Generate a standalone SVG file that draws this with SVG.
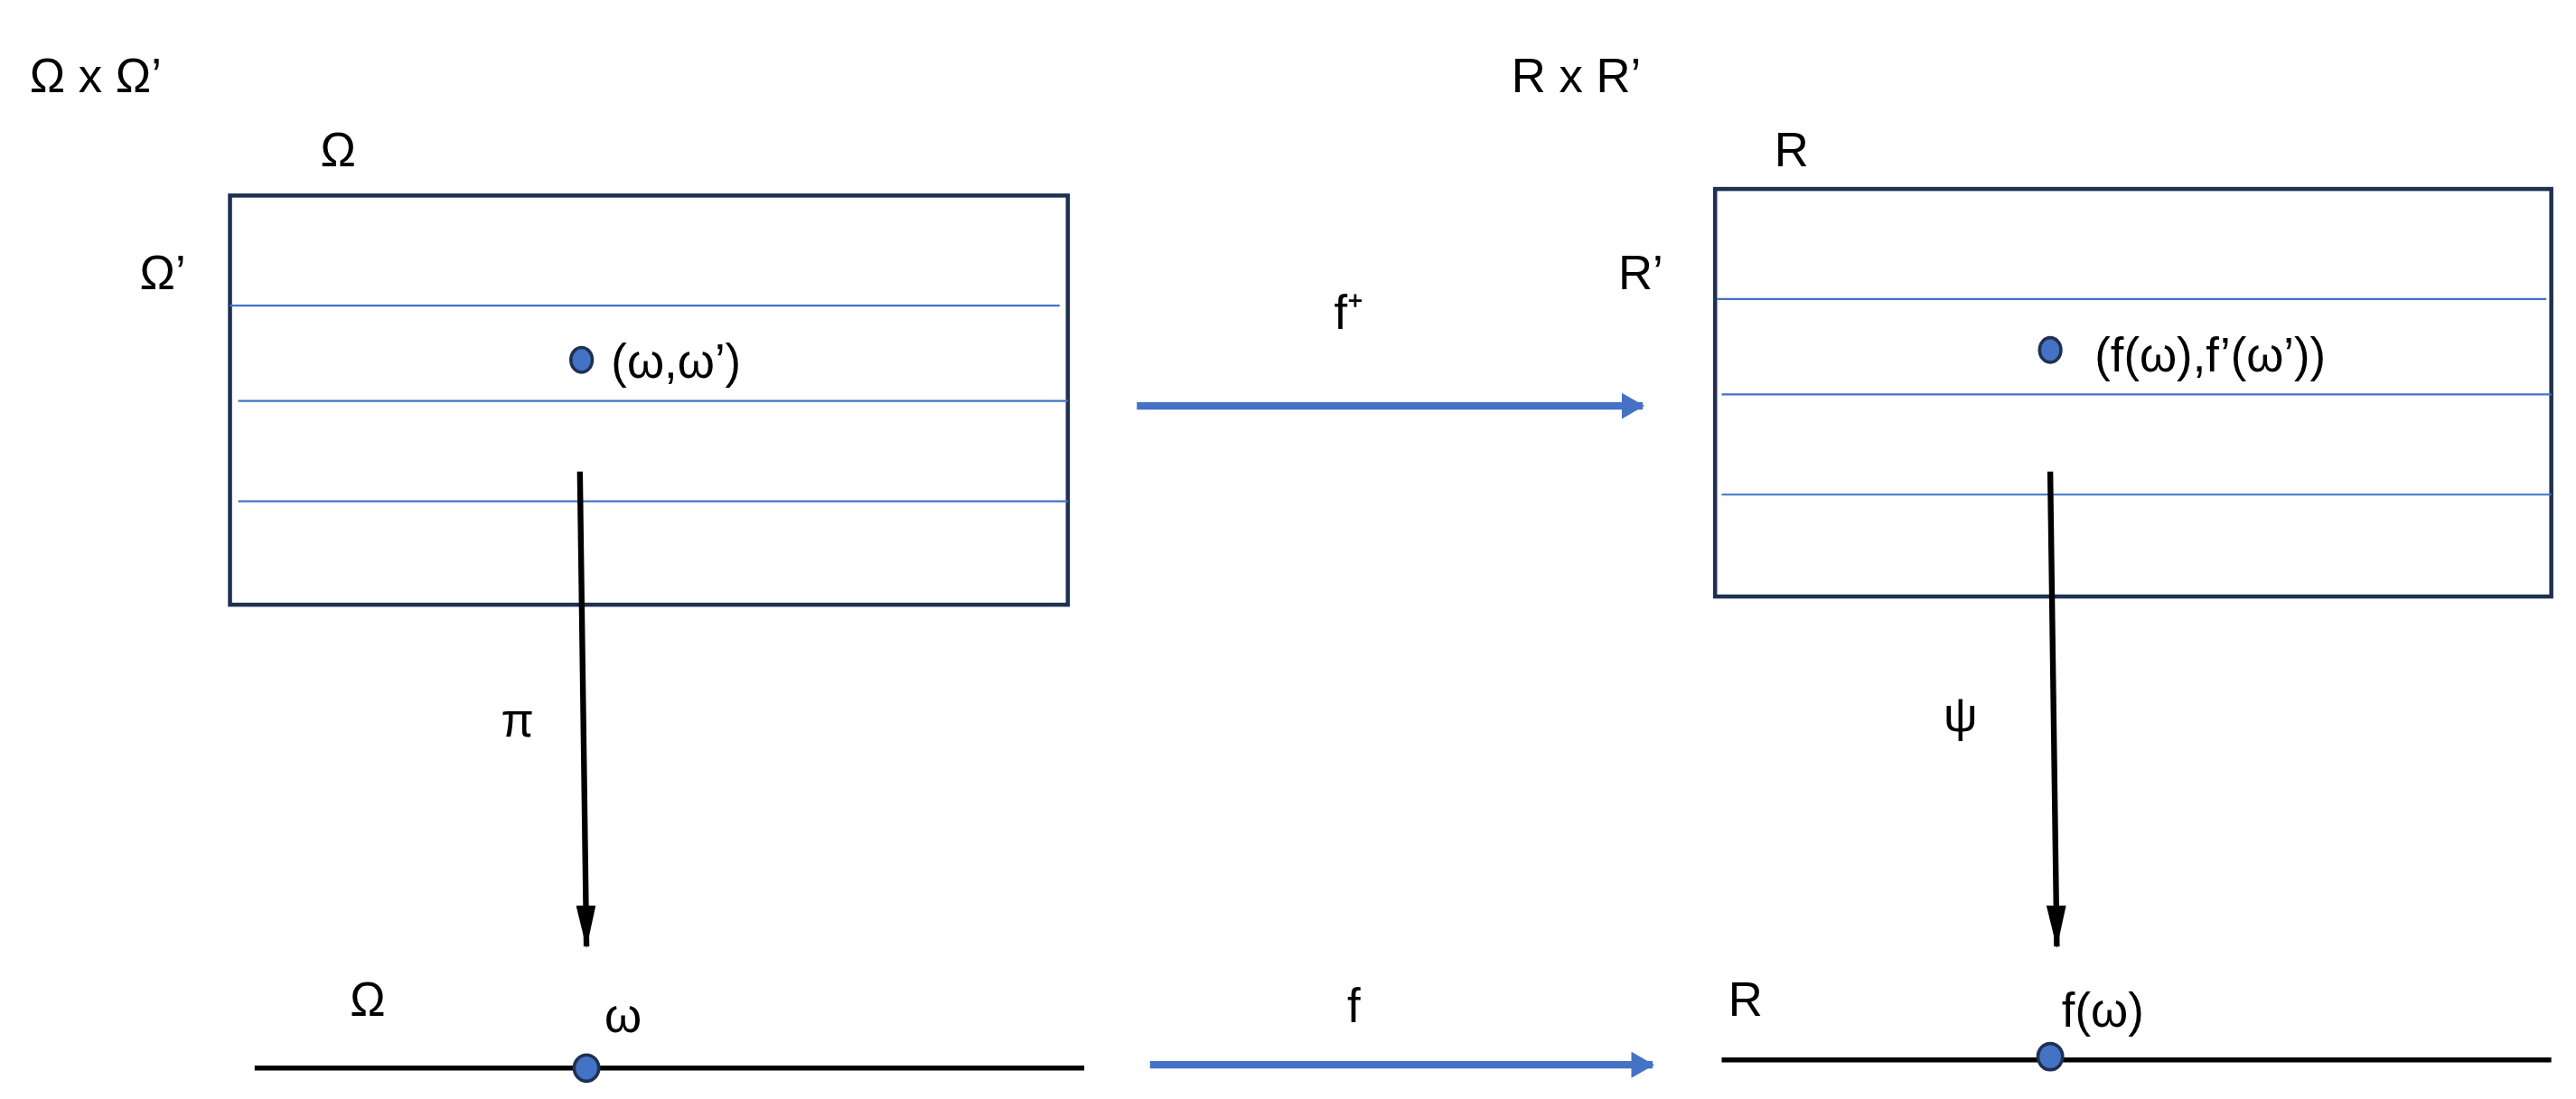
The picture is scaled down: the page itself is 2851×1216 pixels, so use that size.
<svg xmlns="http://www.w3.org/2000/svg" width="2851" height="1216" viewBox="0 0 2851 1216">
<style>
text{font-family:"Liberation Sans",Arial,sans-serif;font-size:29px;fill:#000}
.box{fill:none;stroke:#1f3152;stroke-width:2.5}
.sep{stroke:#4472c4;stroke-width:1.2}
.blk{stroke:#000;stroke-width:3.5;fill:none}
.base{stroke:#000;stroke-width:3;fill:none}
.blue{stroke:#4472c4;stroke-width:4.5;fill:none}
.dot{fill:#4472c4;stroke:#1f3152;stroke-width:2}
</style>
<defs>
<marker id="ha" viewBox="0 0 26 12" refX="25" refY="6" markerWidth="26" markerHeight="12" orient="auto" markerUnits="userSpaceOnUse"><path d="M0,0L26,6L0,12z" fill="#000"/></marker>
<marker id="hb" viewBox="0 0 14 16" refX="13" refY="8" markerWidth="14" markerHeight="16" orient="auto" markerUnits="userSpaceOnUse"><path d="M0,0L14,8L0,16z" fill="#4472c4"/></marker>
</defs>
<rect width="2851" height="1216" fill="#fff"/>
<g transform="scale(1.8182)">
<g id="left-product">
<text x="18" y="56">Ω x Ω’</text>
<text x="195" y="101">Ω</text>
<text x="85" y="176">Ω’</text>
<rect class="box" x="140" y="119" width="510" height="249"/>
<line class="sep" x1="140" y1="186" x2="645" y2="186"/>
<line class="sep" x1="145" y1="244" x2="650" y2="244"/>
<line class="sep" x1="145" y1="305" x2="650" y2="305"/>
<ellipse class="dot" cx="354" cy="219" rx="6.5" ry="7.5"/>
<text x="372" y="230">(ω,ω’)</text>
</g>
<g id="right-product">
<text x="920" y="56">R x R’</text>
<text x="1080" y="101">R</text>
<text x="985" y="176">R’</text>
<rect class="box" x="1044" y="115" width="509" height="248"/>
<line class="sep" x1="1045" y1="182" x2="1550" y2="182"/>
<line class="sep" x1="1048" y1="240" x2="1553" y2="240"/>
<line class="sep" x1="1048" y1="301" x2="1553" y2="301"/>
<ellipse class="dot" cx="1248" cy="213" rx="6.5" ry="7.5"/>
<text x="1275" y="226">(f(ω),f’(ω’))</text>
</g>
<g id="left-base">
<text x="213" y="618">Ω</text>
<text x="368" y="628">ω</text>
<line class="base" x1="155" y1="650" x2="660" y2="650"/>
<ellipse class="dot" cx="357" cy="650" rx="7.5" ry="8"/>
</g>
<g id="right-base">
<text x="1052" y="618">R</text>
<text x="1255" y="625">f(ω)</text>
<line class="base" x1="1048" y1="645" x2="1553" y2="645"/>
<ellipse class="dot" cx="1248" cy="643" rx="7.5" ry="8"/>
</g>
<g id="connectors">
<line class="blue" x1="692" y1="247" x2="1000" y2="247" marker-end="url(#hb)"/>
<text x="812" y="200">f⁺</text>
<line class="blue" x1="700" y1="648" x2="1006" y2="648" marker-end="url(#hb)"/>
<text x="820" y="622">f</text>
<line class="blk" x1="353" y1="287" x2="357" y2="576" marker-end="url(#ha)"/>
<text x="305" y="448">π</text>
<line class="blk" x1="1248" y1="287" x2="1252" y2="576" marker-end="url(#ha)"/>
<text x="1183" y="445">ψ</text>
</g>
</g>
</svg>
